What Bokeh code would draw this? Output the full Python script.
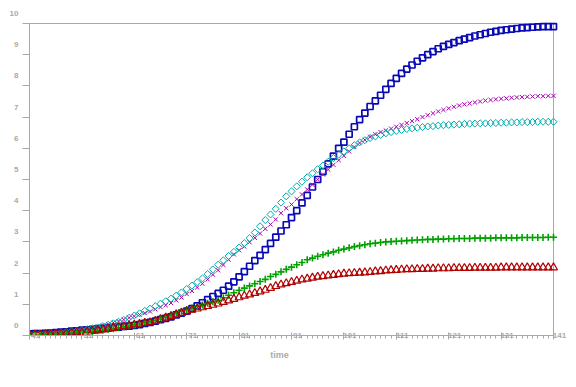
from bokeh.plotting import figure
from bokeh.models import (ColumnDataSource, FixedTicker, CustomJSTickFormatter,
                          Range1d, LinearAxis, Title)
from bokeh.embed import file_html
from bokeh.resources import INLINE

time = list(range(41, 142))

blue = [0.05, 0.06, 0.06, 0.07, 0.08, 0.09, 0.11, 0.12, 0.14, 0.15,
        0.17, 0.18, 0.2, 0.21, 0.23, 0.24, 0.26, 0.27, 0.29, 0.3,
        0.32, 0.35, 0.39, 0.42, 0.46, 0.51, 0.55, 0.6, 0.66, 0.72,
        0.78, 0.86, 0.95, 1.05, 1.15, 1.25, 1.35, 1.45, 1.58, 1.72,
        1.88, 2.05, 2.22, 2.4, 2.57, 2.75, 2.95, 3.15, 3.35, 3.55,
        3.78, 4.0, 4.25, 4.49, 4.76, 5.0, 5.25, 5.5, 5.75, 6.0,
        6.2, 6.45, 6.69, 6.92, 7.13, 7.34, 7.52, 7.7, 7.89, 8.08,
        8.24, 8.4, 8.54, 8.67, 8.79, 8.9, 9.0, 9.1, 9.19, 9.27,
        9.33, 9.39, 9.45, 9.5, 9.55, 9.6, 9.64, 9.68, 9.72, 9.75,
        9.78, 9.8, 9.82, 9.84, 9.86, 9.87, 9.88, 9.89, 9.9, 9.9, 9.9]

magenta = [0.03, 0.04, 0.05, 0.06, 0.07, 0.08, 0.09, 0.11, 0.13, 0.15,
           0.18, 0.21, 0.24, 0.28, 0.32, 0.36, 0.41, 0.46, 0.51, 0.57,
           0.62, 0.67, 0.72, 0.77, 0.84, 0.91, 0.97, 1.04, 1.13, 1.22,
           1.33, 1.43, 1.54, 1.66, 1.8, 1.95, 2.09, 2.26, 2.43, 2.6,
           2.73, 2.85, 2.99, 3.13, 3.27, 3.42, 3.56, 3.72, 3.92, 4.08,
           4.2, 4.37, 4.52, 4.68, 4.83, 5.0, 5.16, 5.32, 5.47, 5.62,
           5.76, 5.9, 6.04, 6.17, 6.27, 6.37, 6.45, 6.52, 6.57, 6.63,
           6.69, 6.75, 6.81, 6.87, 6.93, 7.0, 7.06, 7.12, 7.18, 7.23,
           7.28, 7.33, 7.37, 7.41, 7.44, 7.47, 7.5, 7.53, 7.55, 7.57,
           7.59, 7.6, 7.62, 7.63, 7.64, 7.65, 7.66, 7.67, 7.67, 7.68, 7.68]

cyan = [0.03, 0.04, 0.05, 0.06, 0.07, 0.08, 0.1, 0.11, 0.13, 0.15,
        0.17, 0.2, 0.23, 0.26, 0.3, 0.34, 0.39, 0.44, 0.5, 0.57,
        0.64, 0.71, 0.79, 0.86, 0.94, 1.02, 1.1, 1.18, 1.28, 1.38,
        1.49, 1.6, 1.71, 1.83, 1.97, 2.12, 2.27, 2.41, 2.55, 2.68,
        2.82, 2.96, 3.12, 3.3, 3.5, 3.7, 3.88, 4.06, 4.26, 4.46,
        4.62, 4.78, 4.93, 5.07, 5.2, 5.33, 5.45, 5.57, 5.69, 5.8,
        5.9, 6.0, 6.1, 6.19, 6.26, 6.33, 6.38, 6.43, 6.48, 6.52,
        6.56, 6.59, 6.62, 6.64, 6.66, 6.68, 6.7, 6.71, 6.73, 6.74,
        6.75, 6.76, 6.77, 6.78, 6.79, 6.79, 6.8, 6.8, 6.81, 6.81,
        6.82, 6.82, 6.83, 6.83, 6.84, 6.84, 6.84, 6.85, 6.85, 6.85, 6.85]

green = [0.03, 0.03, 0.04, 0.04, 0.05, 0.05, 0.06, 0.07, 0.08, 0.09,
         0.1, 0.11, 0.13, 0.15, 0.17, 0.19, 0.22, 0.25, 0.28, 0.31,
         0.34, 0.37, 0.41, 0.44, 0.48, 0.53, 0.59, 0.65, 0.72, 0.78,
         0.83, 0.88, 0.93, 0.98, 1.03, 1.08, 1.13, 1.21, 1.29, 1.37,
         1.45, 1.52, 1.59, 1.66, 1.73, 1.8, 1.89, 1.96, 2.04, 2.12,
         2.19, 2.27, 2.34, 2.43, 2.48, 2.54, 2.59, 2.64, 2.68, 2.73,
         2.77, 2.81, 2.85, 2.88, 2.91, 2.94, 2.96, 2.98, 3.0, 3.01,
         3.02, 3.03, 3.04, 3.05, 3.06, 3.07, 3.08, 3.08, 3.09, 3.09,
         3.1, 3.1, 3.11, 3.11, 3.11, 3.12, 3.12, 3.12, 3.12, 3.13,
         3.13, 3.13, 3.13, 3.13, 3.14, 3.14, 3.14, 3.14, 3.14, 3.15, 3.15]

red = [0.02, 0.03, 0.03, 0.04, 0.04, 0.05, 0.06, 0.07, 0.08, 0.09,
       0.1, 0.12, 0.14, 0.16, 0.19, 0.21, 0.24, 0.27, 0.29, 0.32,
       0.35, 0.37, 0.4, 0.42, 0.47, 0.52, 0.57, 0.62, 0.67, 0.72,
       0.77, 0.82, 0.86, 0.9, 0.94, 0.98, 1.02, 1.07, 1.12, 1.17,
       1.22, 1.27, 1.31, 1.36, 1.41, 1.46, 1.52, 1.58, 1.63, 1.67,
       1.71, 1.75, 1.79, 1.82, 1.85, 1.88, 1.9, 1.92, 1.94, 1.96,
       1.98, 1.99, 2.0, 2.01, 2.02, 2.03, 2.05, 2.06, 2.08, 2.09,
       2.1, 2.11, 2.12, 2.12, 2.13, 2.13, 2.14, 2.14, 2.15, 2.15,
       2.15, 2.16, 2.16, 2.16, 2.16, 2.17, 2.17, 2.17, 2.17, 2.17,
       2.18, 2.18, 2.18, 2.18, 2.18, 2.18, 2.18, 2.18, 2.18, 2.18, 2.18]

x_ticks = [41, 51, 61, 71, 81, 91, 101, 111, 121, 131, 141]
y_ticks = [0, 1, 2, 3, 4, 5, 6, 7, 8, 9, 10]
x_label = "time"

GRAY = "#a8a8a8"
TXT = "#aaaaaa"
FONT = "Liberation Sans"

X0, X1 = 41, 141
Y0, Y1 = 0, 10
PX_X = 524 / (X1 - X0)
PX_Y = 312 / (Y1 - Y0)
# room for the labels that the original prints beyond the plot box
XTOP = X1 + 14 / PX_X
YTOP = Y1 + 11 / PX_Y

src = ColumnDataSource(dict(t=time, blue=blue, magenta=magenta, cyan=cyan,
                            green=green, red=red))

xs = 6 / PX_X
ys = 10 / PX_Y
p = figure(width=568, height=379, output_backend="svg", toolbar_location=None,
           x_range=Range1d(X0, XTOP), y_range=Range1d(Y0, YTOP),
           min_border_left=29, min_border_right=1, min_border_top=12,
           min_border_bottom=44)
p.extra_x_ranges = {"lab": Range1d(X0 - xs, XTOP - xs)}
p.extra_y_ranges = {"lab": Range1d(Y0 - ys, YTOP - ys)}
p.grid.visible = False
p.outline_line_color = None
p.background_fill_color = "white"
p.border_fill_color = "white"

empty = CustomJSTickFormatter(code="return ''")

# primary axes: tick marks only
xa = p.xaxis[0]
xa.bounds = (X0, X1)
xa.ticker = FixedTicker(ticks=x_ticks, minor_ticks=time)
xa.formatter = empty
xa.axis_line_color = GRAY
xa.major_tick_line_color = GRAY
xa.minor_tick_line_color = GRAY
xa.major_tick_in = 3
xa.major_tick_out = 4
xa.minor_tick_in = 0
xa.minor_tick_out = 3
xa.major_label_standoff = 0

ya = p.yaxis[0]
ya.bounds = (Y0, Y1)
ya.ticker = FixedTicker(ticks=y_ticks, minor_ticks=[])
ya.formatter = empty
ya.axis_line_color = GRAY
ya.major_tick_line_color = GRAY
ya.minor_tick_line_color = None
ya.major_tick_in = 0
ya.major_tick_out = 7
ya.major_label_standoff = 0

# box lines at the top and right of the plot
p.segment(x0=X0, y0=Y1, x1=X1, y1=Y1, line_color=GRAY, line_width=1)
p.segment(x0=X1, y0=Y0, x1=X1, y1=Y1, line_color=GRAY, line_width=1)

label_style = dict(axis_line_color=None, major_tick_line_color=None,
                   minor_tick_line_color=None, major_tick_in=0, major_tick_out=0,
                   minor_tick_in=0, minor_tick_out=0,
                   major_label_text_font=FONT, major_label_text_font_style="bold",
                   major_label_text_font_size="8px", major_label_text_color=TXT)

xl = LinearAxis(x_range_name="lab",
                ticker=FixedTicker(ticks=x_ticks, minor_ticks=[]),
                major_label_standoff=-7, **label_style)
p.add_layout(xl, "below")

yl = LinearAxis(y_range_name="lab",
                ticker=FixedTicker(ticks=y_ticks, minor_ticks=[]),
                major_label_standoff=4, **label_style)
p.add_layout(yl, "left")

t_width = 2.056 * 9
p.add_layout(Title(text=x_label, align="left", offset=250 - t_width / 2,
                   standoff=14, text_font=FONT, text_font_style="bold",
                   text_font_size="9px", text_color=TXT), "below")

p.scatter("t", "blue", source=src, marker="square", size=6, fill_color=None,
          line_color="#0a0ab4", line_width=1.7)
p.scatter("t", "magenta", source=src, marker="x", size=6, line_color="#a800b0",
          line_width=1)
p.scatter("t", "cyan", source=src, marker="square", angle=0.785398, size=5,
          fill_color=None, line_color="#00aaaa", line_width=1)
p.scatter("t", "green", source=src, marker="cross", size=7, line_color="#00a000",
          line_width=1.6)
p.scatter("t", "red", source=src, marker="triangle", size=8, fill_color=None,
          line_color="#b00000", line_width=1.2)

open("out.html", "w").write(file_html(p, INLINE))
